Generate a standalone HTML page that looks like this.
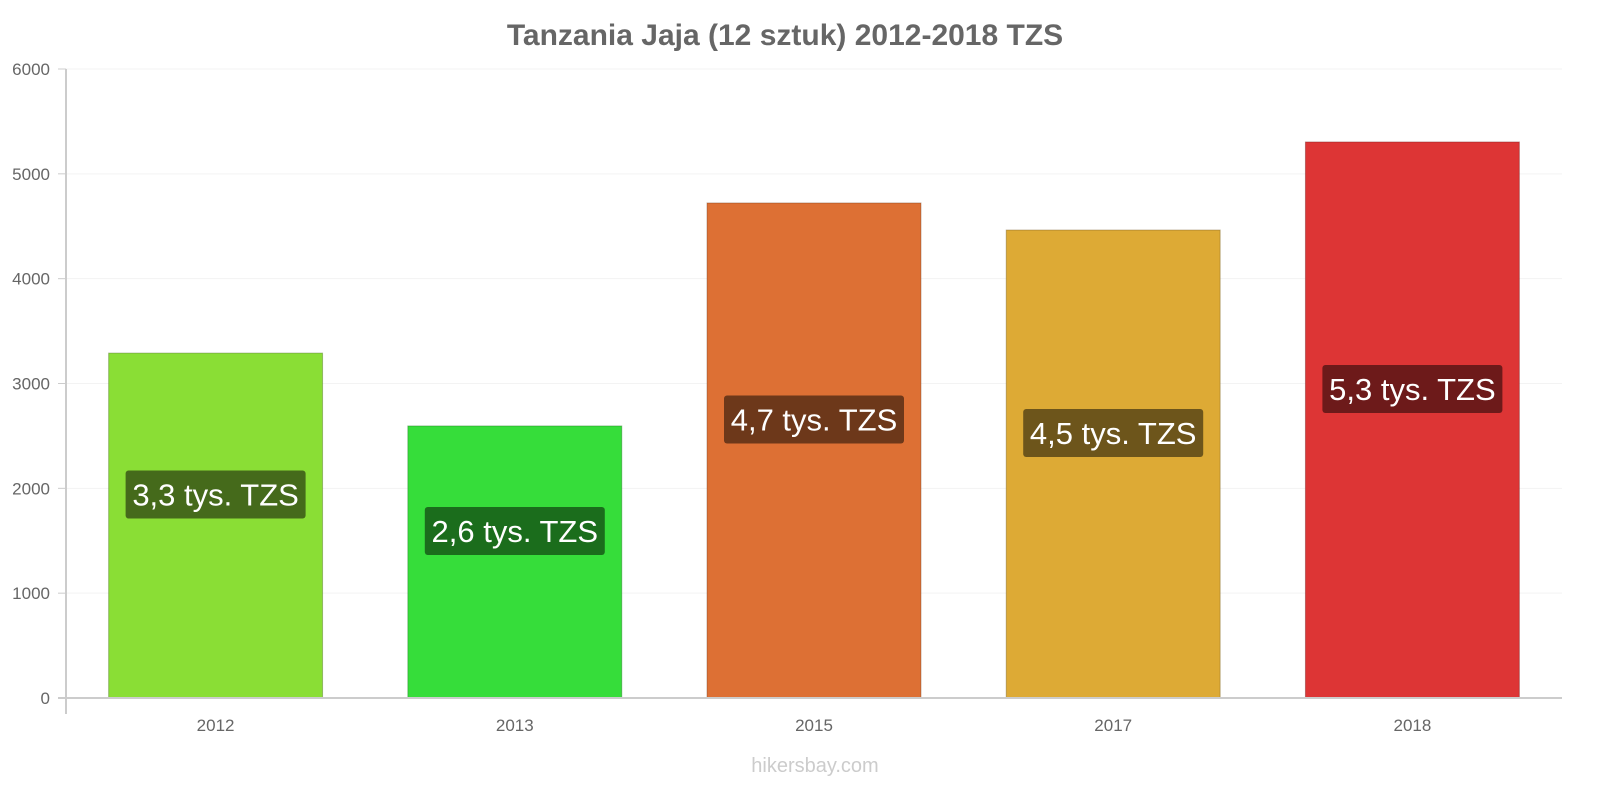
<!DOCTYPE html>
<html><head><meta charset="utf-8">
<style>
html,body{margin:0;padding:0;background:#fff;}
svg{display:block;font-family:"Liberation Sans",sans-serif;}
</style></head>
<body>
<svg id="chart" width="1600" height="800" viewBox="0 0 1600 800" xmlns="http://www.w3.org/2000/svg">
<text x="785" y="45" text-anchor="middle" font-size="30" font-weight="bold" fill="#666">Tanzania Jaja (12 sztuk) 2012-2018 TZS</text>
<g id="grid"></g>
<g id="bars"></g>
<line x1="66" y1="69" x2="66" y2="714" stroke="#ccc" stroke-width="2"/>
<line x1="58" y1="698" x2="1562" y2="698" stroke="#ccc" stroke-width="2"/>
<text x="815" y="772" text-anchor="middle" font-size="20" fill="#ccc">hikersbay.com</text>
</svg>
<script>
const categories = ["2012","2013","2015","2017","2018"];
const values = [3290, 2595, 4722, 4464, 5304];
const labels = ["3,3 tys. TZS","2,6 tys. TZS","4,7 tys. TZS","4,5 tys. TZS","5,3 tys. TZS"];
const yTicks = [0,1000,2000,3000,4000,5000,6000];
const barColors = ["#8ade35","#36dd3a","#dd7034","#ddaa35","#dd3535"];
const labelColors = ["#456a1b","#1b6d1c","#6d381a","#6d551b","#6d1a1a"];

const NS="http://www.w3.org/2000/svg";
const x0=66, x1=1562, yBase=698, yTop=69, yMax=6000;
const y = v => yBase - v/yMax*(yBase-yTop);
const band = (x1-x0)/categories.length;
const xc = i => x0 + band*(i+0.5);
const bw = band*0.715;
const grid=document.getElementById('grid'), bars=document.getElementById('bars');
function mk(t,a,p){const e=document.createElementNS(NS,t);for(const k in a)e.setAttribute(k,a[k]);p.appendChild(e);return e;}
yTicks.forEach(t=>{
  if(t>0){const l=mk('line',{x1:x0,x2:x1,y1:y(t),y2:y(t),stroke:'#f3f3f3','stroke-width':1},grid);
  
  }
  const tk=mk('line',{x1:58,x2:66,y1:y(t),y2:y(t),stroke:'#ccc','stroke-width':1},grid);
  
  
  const tx=mk('text',{x:50,y:y(t)+6,'text-anchor':'end','font-size':17,fill:'#666'},grid);
  tx.textContent=t;
  
  
});
categories.forEach((c,i)=>{
  const top=y(values[i]);
  const r=mk('rect',{x:xc(i)-bw/2,y:top,width:bw,height:yBase-top,fill:barColors[i],stroke:labelColors[i],'stroke-opacity':0.4,'stroke-width':1},bars);
  
  
  const cy=(top+yBase)/2-31;
  const lw=180,lh=48;
  const b=mk('rect',{x:xc(i)-lw/2,y:cy-lh/2,width:lw,height:lh,rx:3,fill:labelColors[i]},bars);
  
  
  const t=mk('text',{x:xc(i),y:cy+11,'text-anchor':'middle','font-size':31,fill:'#fff'},bars);
  t.textContent=labels[i];
  
  
  const xl=mk('text',{x:xc(i),y:731,'text-anchor':'middle','font-size':17,fill:'#666'},bars);
  xl.textContent=c;
  
  
});
</script>
</body></html>
